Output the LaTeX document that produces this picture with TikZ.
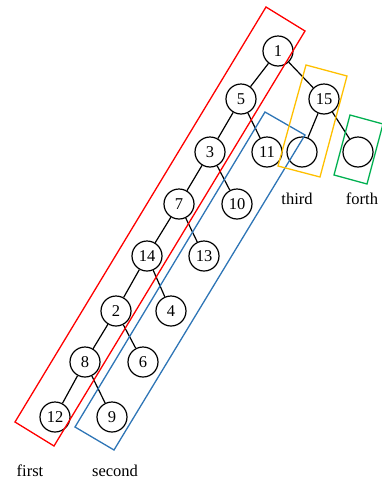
\documentclass[tikz,border=0pt]{standalone}
\usepackage{fontspec}
\setmainfont{Liberation Serif}
\begin{document}
\begin{tikzpicture}[x=1pt,y=-1pt,
  tn/.style={circle,draw=black,fill=white,line width=1.2pt,minimum size=30pt,inner sep=0pt,font=\fontsize{16.5}{18}\selectfont},
  edge/.style={draw=black,line width=1.2pt},
  grp/.style={line width=1.3pt},
  lab/.style={font=\fontsize{16.5}{18}\selectfont,inner sep=0pt}]
\useasboundingbox (0,0) rectangle (382,480);
\node[tn] (n1) at (278,51) {1};
\node[tn] (n5) at (241,99) {5};
\node[tn] (n15) at (324,99) {15};
\node[tn] (n3) at (210,152) {3};
\node[tn] (n11) at (267,152) {11};
\node[tn] (e1) at (302,152) {};
\node[tn] (e2) at (358,152) {};
\node[tn] (n7) at (179,204) {7};
\node[tn] (n10) at (237,204) {10};
\node[tn] (n14) at (147,256) {14};
\node[tn] (n13) at (204,256) {13};
\node[tn] (n2) at (116,311) {2};
\node[tn] (n4) at (171,311) {4};
\node[tn] (n8) at (85,362) {8};
\node[tn] (n6) at (143,362) {6};
\node[tn] (n12) at (55,417) {12};
\node[tn] (n9) at (112,417) {9};
\foreach \a/\b in {n1/n5,n1/n15,n5/n3,n5/n11,n15/e1,n15/e2,n3/n7,n3/n10,n7/n14,n7/n13,n14/n2,n14/n4,n2/n8,n2/n6,n8/n12,n8/n9}
  \draw[edge] (\a) -- (\b);
\draw[grp,red] (266,7) -- (305,31) -- (54,446) -- (15,422) -- cycle;
\draw[grp,color={rgb,255:red,46;green,117;blue,182}] (265,112) -- (305,135) -- (114,450) -- (75,427) -- cycle;
\draw[grp,color={rgb,255:red,255;green,192;blue,0}] (306,65) -- (347,76) -- (320,177) -- (278,166) -- cycle;
\draw[grp,color={rgb,255:red,0;green,176;blue,80}] (350,115) -- (383,124) -- (367,184) -- (334,175) -- cycle;
\node[lab] (t3) at (297,199) {third};
\node[lab] (t4) at (362,199) {forth};
\node[lab] (t1) at (30,471) {first};
\node[lab] (t2) at (115,471) {second};
\end{tikzpicture}
\end{document}
